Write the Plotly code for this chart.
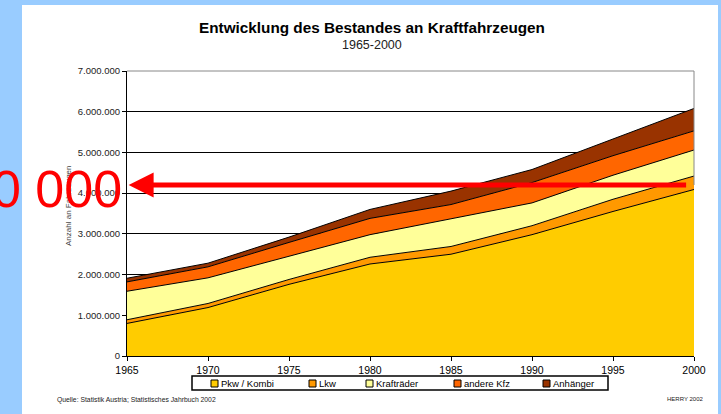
import plotly.graph_objects as go

years = [1965, 1970, 1975, 1980, 1985, 1990, 1995, 2000]
pkw = [800000, 1190000, 1760000, 2260000, 2500000, 2980000, 3550000, 4090000]
lkw = [90000, 100000, 120000, 165000, 190000, 220000, 300000, 330000]
kraft = [700000, 630000, 570000, 555000, 680000, 560000, 590000, 640000]
andere = [230000, 270000, 340000, 400000, 350000, 500000, 480000, 470000]
anh = [90000, 90000, 130000, 220000, 330000, 320000, 410000, 550000]

series_names = ["Pkw / Kombi", "Lkw", "Krafträder", "andere Kfz", "Anhänger"]
series_vals = [pkw, lkw, kraft, andere, anh]
series_cols = ["#FFCC00", "#FF9900", "#FFFF99", "#FF6600", "#993300"]

title_text = "Entwicklung des Bestandes an Kraftfahrzeugen"
subtitle_text = "1965-2000"
yaxis_title = "Anzahl an Fahrzeugen"
source_text = "Quelle: Statistik Austria; Statistisches Jahrbuch 2002"
credit_text = "HERRY 2002"
overlay_text = "0 000"
arrow_value = 4200000

W, H = 721, 414
L, R, T, B = 127, 27, 71, 58
PW = W - L - R
PH = H - T - B

def px(x):
    return (x - L) / PW

def py(y):
    return (H - B - y) / PH

FONT = "Liberation Sans, Arial, sans-serif"

fig = go.Figure()
for name, vals, col in zip(series_names, series_vals, series_cols):
    fig.add_trace(go.Scatter(
        x=years, y=vals, name=name, mode="lines",
        stackgroup="one", fillcolor=col,
        line=dict(color="black", width=1),
        showlegend=False,
    ))

shapes = [
    dict(type="rect", xref="paper", yref="paper",
         x0=px(22), x1=px(718), y0=py(420), y1=py(5),
         fillcolor="white", line=dict(width=0), layer="below"),
    dict(type="line", xref="paper", yref="paper",
         x0=0, x1=1, y0=1, y1=1, line=dict(color="#888888", width=1)),
    dict(type="line", xref="paper", yref="paper",
         x0=1, x1=1, y0=0.6, y1=1, line=dict(color="#888888", width=1)),
    # legend box
    dict(type="rect", xref="paper", yref="paper",
         x0=px(192), x1=px(608), y0=py(390), y1=py(376),
         fillcolor="white", line=dict(color="black", width=1.5)),
]

annotations = [
    dict(text="<b>" + title_text + "</b>", xref="paper", yref="paper",
         x=px(372), y=py(28), xanchor="center", yanchor="middle",
         showarrow=False, font=dict(size=15.3, color="black", family=FONT)),
    dict(text=subtitle_text, xref="paper", yref="paper",
         x=px(372), y=py(45), xanchor="center", yanchor="middle",
         showarrow=False, font=dict(size=12.5, color="#222222", family=FONT)),
    dict(text=yaxis_title, xref="paper", yref="paper", textangle=-90,
         x=px(68), y=py(206), xanchor="center", yanchor="middle",
         showarrow=False, font=dict(size=8, color="#444444", family=FONT)),
    dict(text=source_text, xref="paper", yref="paper",
         x=px(55), y=py(400), xanchor="left", yanchor="middle",
         showarrow=False, font=dict(size=6.8, color="#222222", family=FONT)),
    dict(text=credit_text, xref="paper", yref="paper",
         x=px(705), y=py(399), xanchor="right", yanchor="middle",
         showarrow=False, font=dict(size=6, color="#222222", family=FONT)),
    dict(text="", x=1965.1, y=arrow_value, xref="x", yref="y",
         ax=559, ay=0, showarrow=True, arrowhead=2, arrowsize=1,
         arrowwidth=5, arrowcolor="#FF0000"),
    dict(text=overlay_text, xref="paper", yref="paper",
         x=px(124), y=py(189), xanchor="right", yanchor="middle",
         showarrow=False, font=dict(size=52, color="#FF0000", family=FONT)),
]

# custom compact legend (Excel style)
legend_sq_x = [211, 309, 366, 454, 543]
for name, col, sx in zip(series_names, series_cols, legend_sq_x):
    shapes.append(dict(type="rect", xref="paper", yref="paper",
                       x0=px(sx), x1=px(sx + 7), y0=py(387), y1=py(380),
                       fillcolor=col, line=dict(color="black", width=1)))
    annotations.append(dict(text=name, xref="paper", yref="paper",
                            x=px(sx + 8), y=py(383.5), xanchor="left", yanchor="middle",
                            showarrow=False,
                            font=dict(size=9.5, color="black", family=FONT)))

fig.update_layout(
    width=W, height=H,
    margin=dict(l=L, r=R, t=T, b=B, pad=0),
    paper_bgcolor="#99CCFF",
    plot_bgcolor="white",
    separators=",.",
    font=dict(family=FONT, color="black"),
    showlegend=False,
    xaxis=dict(
        range=[1965, 2000], dtick=5, tick0=1965,
        showgrid=False, zeroline=False,
        showline=True, linecolor="black", linewidth=1,
        ticks="outside", ticklen=4, tickcolor="black",
        tickfont=dict(size=10.5, color="black"),
    ),
    yaxis=dict(
        range=[0, 7000000], dtick=1000000, tickformat=",d",
        showgrid=True, gridcolor="black", gridwidth=1, zeroline=False,
        showline=True, linecolor="black", linewidth=1,
        ticks="outside", ticklen=4, tickcolor="black",
        tickfont=dict(size=9.5, color="#222222"),
    ),
    shapes=shapes,
    annotations=annotations,
)

fig.write_html("out.html",
               config={"displayModeBar": False},
               post_script="document.body.style.margin='0px';document.body.style.overflow='hidden';")
